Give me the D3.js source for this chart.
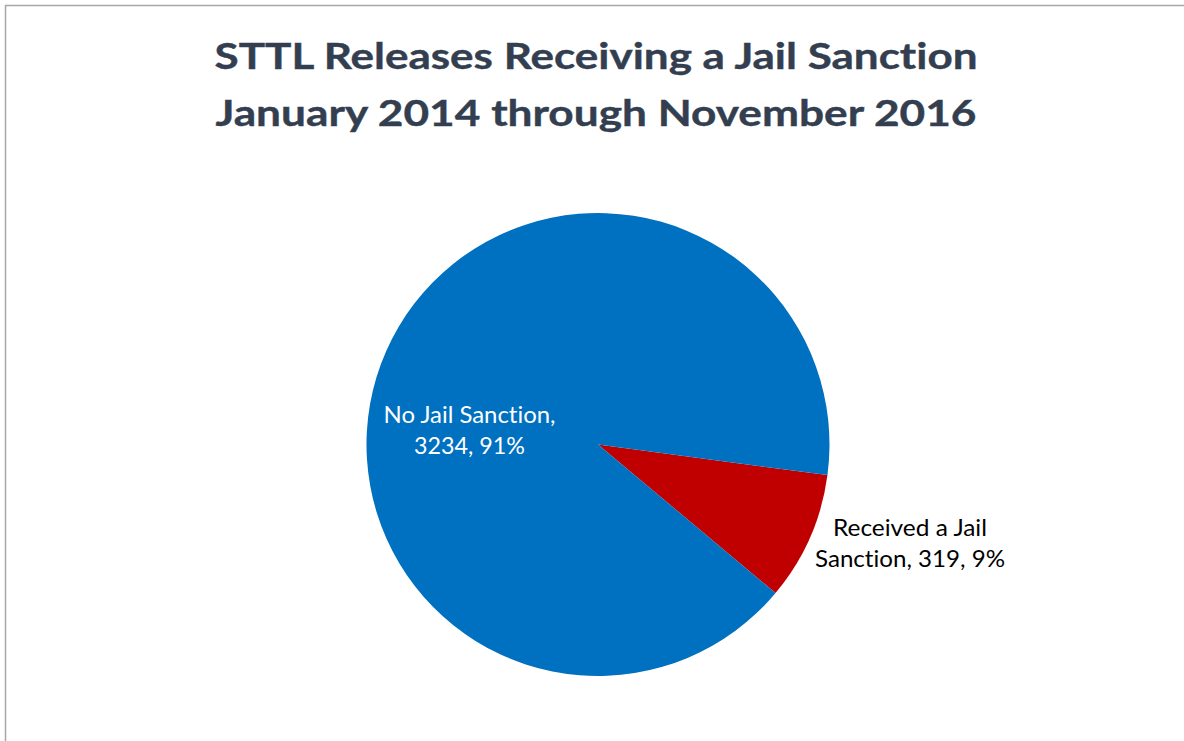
<!DOCTYPE html>
<html>
<head>
<meta charset="utf-8">
<script src="https://cdn.jsdelivr.net/npm/d3@7.9.0/dist/d3.min.js"></script>
<style>
  html, body { margin: 0; padding: 0; background: #fff; }
  svg { display: block; }
  text { font-variant-ligatures: none; font-feature-settings: "liga" 0, "clig" 0; }
</style>
</head>
<body>
<svg id="chart" width="1184" height="741"></svg>
<script>
// chart data
const categories = ['Received a Jail Sanction', 'No Jail Sanction'];
const counts = [319, 3234];
const percents = ['9%', '91%'];
const titleLines = [
  'STTL Releases Receiving a Jail Sanction',
  'January 2014 through November 2016',
];

const colors = ['#C00000', '#0070C0'];

const svg = d3.select('#chart');
const width = 1184;
const height = 741;

// frame: only the top and left edges show in the picture
svg.append('path')
  .attr('d', `M5.5,${height} V5.5 H${width}`)
  .attr('fill', 'none')
  .attr('stroke', '#a6a6a6')
  .attr('stroke-width', 1.5);

// title
const titleFont = 'Lato, "Open Sans", sans-serif';
const titleSpecs = [
  { y: 69, w: 763 },
  { y: 126, w: 761 },
];
titleLines.forEach((line, i) => {
  svg.append('text')
    .attr('x', 596)
    .attr('y', titleSpecs[i].y)
    .attr('text-anchor', 'middle')
    .attr('font-family', titleFont)
    .attr('font-weight', 700)
    .attr('font-size', 36)
    .attr('fill', '#333f50')
    .attr('stroke', '#333f50')
    .attr('stroke-width', 0.4)
    .attr('textLength', titleSpecs[i].w)
    .attr('lengthAdjust', 'spacingAndGlyphs')
    .text(line);
});

// pie
const cx = 598;
const cy = 444.5;
const radius = 231.5;
const startDeg = 97.6;

const pie = d3.pie()
  .sort(null)
  .value((d) => d.value)
  .startAngle((startDeg * Math.PI) / 180)
  .endAngle(((startDeg + 360) * Math.PI) / 180);

const data = categories.map((c, i) => ({ label: c, value: counts[i], pct: percents[i] }));
const arcData = pie(data);
const arcGen = d3.arc().innerRadius(0).outerRadius(radius);

const g = svg.append('g').attr('transform', `translate(${cx},${cy})`);

g.selectAll('path')
  .data(arcData)
  .join('path')
  .attr('d', arcGen)
  .attr('fill', (d, i) => colors[i]);

// data labels (category, value, percent)
const labelFont = 'Lato, "Open Sans", sans-serif';
const labelSpecs = [
  { x: 910, y: [536, 567], w: [154, 190], fill: '#000' },
  { x: 469.5, y: [423, 454], w: [172, 111], fill: '#fff' },
];
data.forEach((d, i) => {
  const spec = labelSpecs[i];
  const words = d.label.split(' ');
  const lines = i === 0
    ? [words.slice(0, 3).join(' '), `${words.slice(3).join(' ')}, ${d.value}, ${d.pct}`]
    : [`${d.label},`, `${d.value}, ${d.pct}`];
  lines.forEach((line, j) => {
    svg.append('text')
      .attr('x', spec.x)
      .attr('y', spec.y[j])
      .attr('text-anchor', 'middle')
      .attr('font-family', labelFont)
      .attr('font-size', 23)
      .attr('fill', spec.fill)
      .attr('textLength', spec.w[j])
      .attr('lengthAdjust', 'spacingAndGlyphs')
      .text(line);
  });
});
</script>
</body>
</html>
